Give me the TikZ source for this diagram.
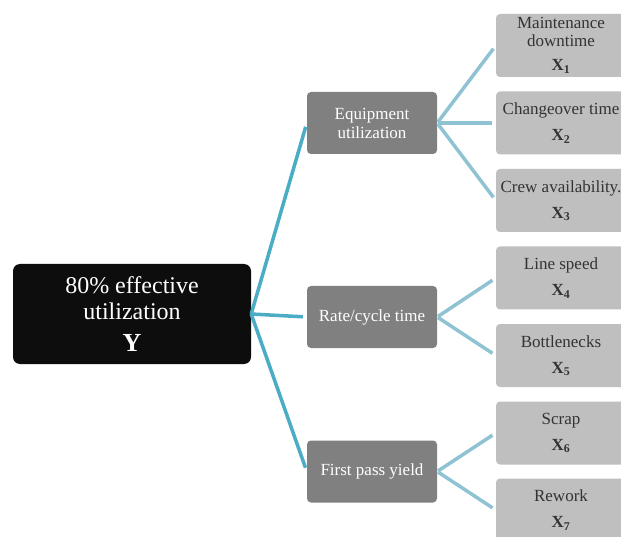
\documentclass[tikz,border=0pt]{standalone}
\usepackage{fontspec}
\setmainfont{Liberation Serif}
\definecolor{rootfill}{HTML}{0D0D0D}
\definecolor{midfill}{HTML}{808080}
\definecolor{leaffill}{HTML}{BFBFBF}
\definecolor{leaftext}{HTML}{333333}
\definecolor{rootlink}{HTML}{4AACC5}
\definecolor{leaflink}{HTML}{8FC3D3}
\tikzset{
  rootbox/.style={fill=rootfill,text=white,rounded corners=7pt,minimum width=238pt,
    minimum height=100pt,align=center,inner sep=0pt,font=\fontsize{24}{26}\selectfont},
  midbox/.style={fill=midfill,text=white,rounded corners=4pt,minimum width=130pt,
    minimum height=62pt,align=center,inner sep=0pt,font=\fontsize{17}{19}\selectfont},
  leafbox/.style={fill=leaffill,text=leaftext,rounded corners=4pt,minimum width=130pt,
    minimum height=63pt,align=center,inner sep=0pt,font=\fontsize{17}{18}\selectfont},
  rootline/.style={draw=rootlink,line width=3.5pt,shorten >=4pt},
  leafline/.style={draw=leaflink,line width=3.5pt,shorten <=1pt,shorten >=4pt}
}
\newcommand{\xvar}[1]{\textbf{X\textsubscript{#1}}}
\begin{document}
\begin{tikzpicture}[x=1pt,y=-1pt]
  \clip (0,0) rectangle (621,537);
  \fill[white] (0,0) rectangle (621,537);
  % goal
  \node[rootbox] (goal) at (132,314) {80\% effective\\utilization\\[6pt]{\fontsize{26}{26}\selectfont\textbf{Y}}};
  % drivers
  \node[midbox] (equip) at (372,123) {Equipment\\utilization};
  \node[midbox] (rate) at (372,317) {Rate/cycle time};
  \node[midbox] (yield) at (372,471.5) {First pass yield};
  % factors
  \node[leafbox] (maint) at (561,45.5) {Maintenance\\downtime\\[6pt]\xvar{1}};
  \node[leafbox] (change) at (561,123) {Changeover time\\[8pt]\xvar{2}};
  \node[leafbox] (crew) at (561,200.5) {Crew availability.\\[8pt]\xvar{3}};
  \node[leafbox] (speed) at (561,278) {Line speed\\[8pt]\xvar{4}};
  \node[leafbox] (bottle) at (561,355.5) {Bottlenecks\\[8pt]\xvar{5}};
  \node[leafbox] (scrap) at (561,433) {Scrap\\[8pt]\xvar{6}};
  \node[leafbox] (rework) at (561,510) {Rework\\[8pt]\xvar{7}};
  % links
  \foreach \d in {equip,rate,yield}
    \draw[rootline] (goal.east) -- (\d.west);
  \foreach \f in {maint,change,crew}
    \draw[leafline] (equip.east) -- (\f.west);
  \foreach \f in {speed,bottle}
    \draw[leafline] (rate.east) -- (\f.west);
  \foreach \f in {scrap,rework}
    \draw[leafline] (yield.east) -- (\f.west);
\end{tikzpicture}
\end{document}
